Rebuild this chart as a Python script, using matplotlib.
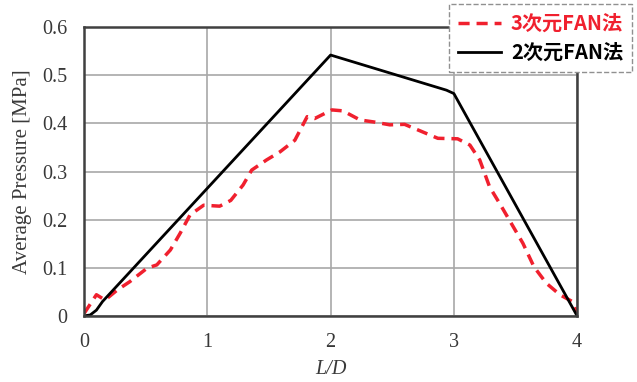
import matplotlib.pyplot as plt
import numpy as np

# 3D FAN method (red dashed)
ld_3d = [0, 0.1, 0.17, 0.27, 0.37, 0.51, 0.59, 0.70, 0.78, 0.86, 0.97, 1.10, 1.19,
         1.29, 1.36, 1.48, 1.59, 1.71, 1.81, 1.87, 2.01, 2.10, 2.24, 2.35, 2.48,
         2.60, 2.74, 2.87, 3.03, 3.13, 3.21, 3.29, 3.38, 3.48, 3.56, 3.65, 3.75,
         3.86, 3.96, 4.0]
p_3d = [0.005, 0.044, 0.033, 0.054, 0.071, 0.099, 0.106, 0.137, 0.172, 0.21, 0.23,
        0.228, 0.24, 0.272, 0.303, 0.324, 0.341, 0.365, 0.414, 0.41, 0.428, 0.426,
        0.407, 0.403, 0.397, 0.398, 0.383, 0.369, 0.368, 0.355, 0.324, 0.268, 0.23,
        0.186, 0.151, 0.102, 0.068, 0.044, 0.03, 0.005]

# 2D FAN method (black solid)
ld_2d = [0, 0.05, 0.1, 0.15, 2.0, 2.94, 3.0, 4.0]
p_2d = [0, 0.002, 0.012, 0.03, 0.542, 0.469, 0.462, 0]

labels = ['3次元FAN法', '2次元FAN法']
red = '#f0202e'

fig = plt.figure(figsize=(6.37, 3.82), dpi=100)
ax = fig.add_axes([0.132, 0.173, 0.774, 0.756])

l1, = ax.plot(ld_3d, p_3d, color=red, lw=2.5, ls=(0, (3.2, 2.0)), label=labels[0])
l2, = ax.plot(ld_2d, p_2d, color='black', lw=2.0, label=labels[1])

ax.set_xlim(0, 4)
ax.set_ylim(0, 0.6)
ax.set_xticks([0, 1, 2, 3, 4])
ax.set_yticks(np.arange(0, 0.61, 0.1))
ax.set_yticklabels(['0', '0.1', '0.2', '0.3', '0.4', '0.5', '0.6'])
ax.grid(True, color='#a8a8a8', lw=1.2)
ax.set_axisbelow(True)
ax.tick_params(length=0, labelsize=14.5, colors='#383838', pad=12)
for lab in ax.get_xticklabels() + ax.get_yticklabels():
    lab.set_family('Liberation Serif')
for s in ax.spines.values():
    s.set_color('#404040')
    s.set_linewidth(1.8)

ax.set_xlabel('L/D', family='Liberation Serif', style='italic', fontsize=14.5,
              color='#3a3a3a', labelpad=6)
ax.set_ylabel('Average Pressure [MPa]', family='Liberation Serif', fontsize=15,
              color='#3a3a3a', labelpad=7)

leg = fig.legend(handles=[l1, l2], loc='upper right',
                 bbox_to_anchor=(632 / 637, 1 - 4 / 382), borderaxespad=0,
                 prop={'family': ['Noto Sans CJK JP', 'DejaVu Sans'], 'weight': 'bold', 'size': 14.5},
                 handlelength=2.1, handletextpad=0.5, borderpad=0.45, labelspacing=0.4,
                 fancybox=False, framealpha=1)
leg.get_frame().set_linestyle('--')
leg.get_frame().set_edgecolor('#909090')
leg.get_frame().set_linewidth(1.0)
leg.get_texts()[0].set_color(red)
leg.get_texts()[1].set_color('black')

fig.savefig('out.png', dpi=100)
